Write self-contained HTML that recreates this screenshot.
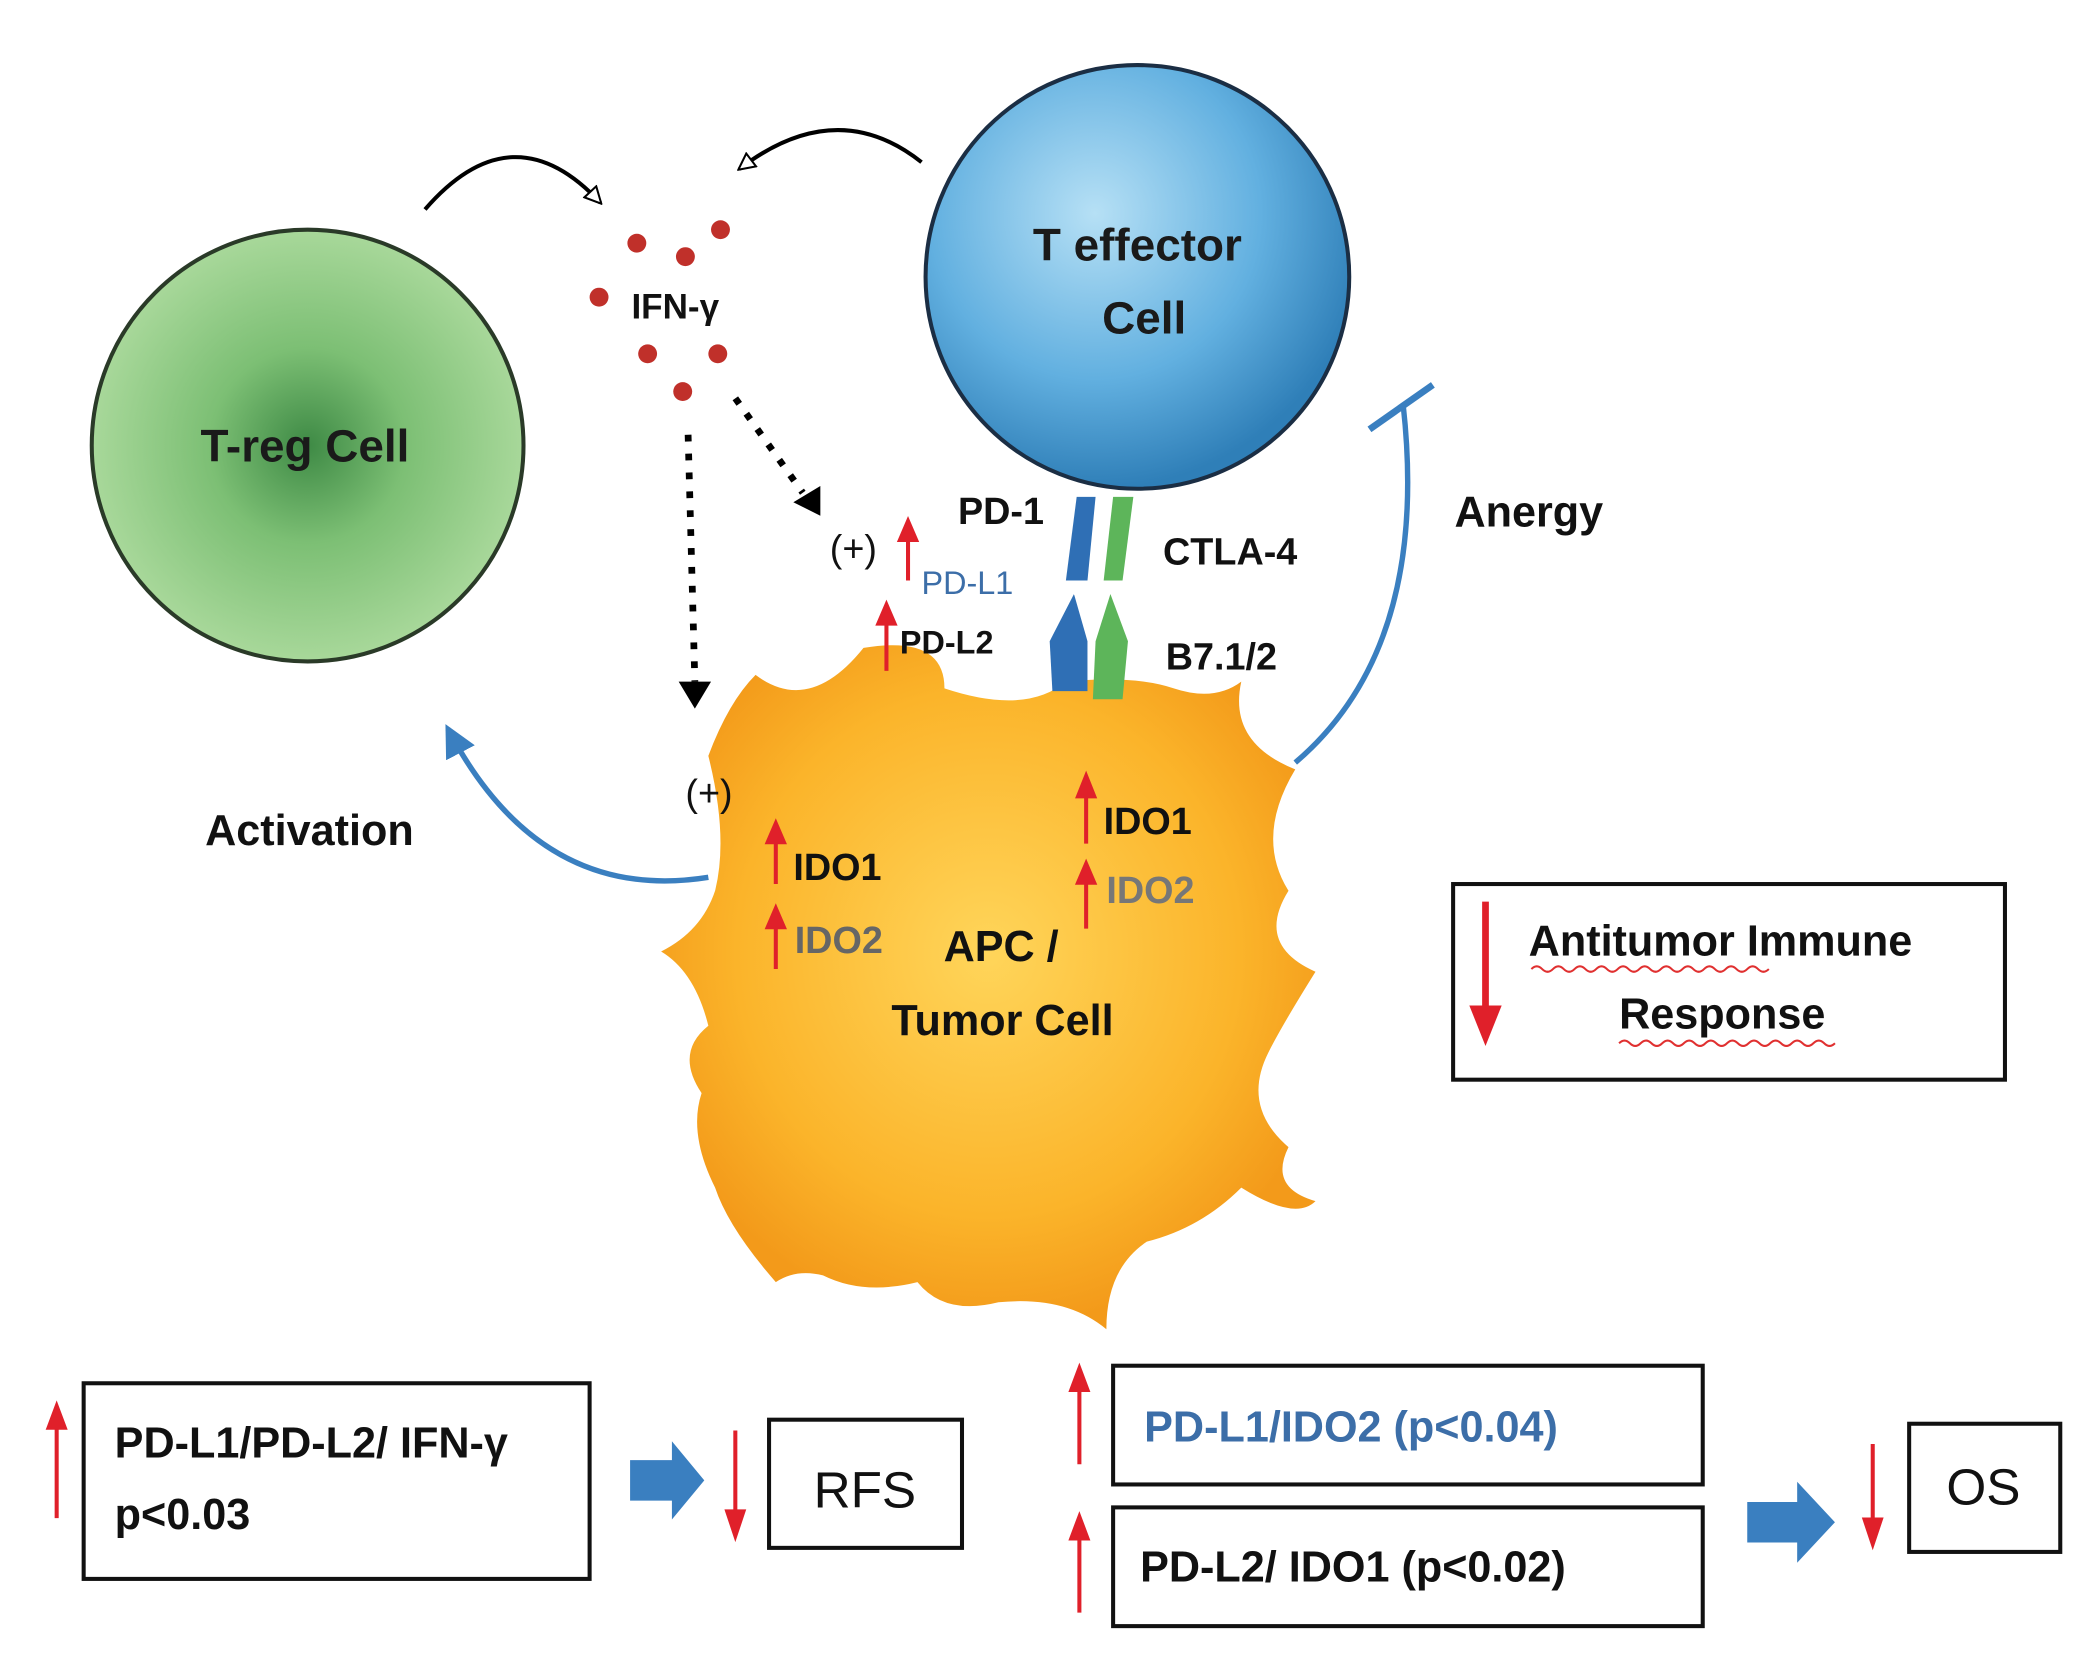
<!DOCTYPE html>
<html><head><meta charset="utf-8">
<style>
html,body{margin:0;padding:0;background:#fff;}
svg{display:block;}
text{font-family:"Liberation Sans",sans-serif;font-weight:bold;}
</style></head>
<body>
<svg width="2094" height="1675" viewBox="0 0 1552 1241" xmlns="http://www.w3.org/2000/svg">
<defs>
<radialGradient id="g" cx="50%" cy="50%" r="50%">
<stop offset="0" stop-color="#3e8a45"/><stop offset="0.45" stop-color="#7cbf74"/><stop offset="1" stop-color="#a8d89a"/>
</radialGradient>
<radialGradient id="b" cx="40%" cy="35%" r="65%">
<stop offset="0" stop-color="#b6e0f5"/><stop offset="0.6" stop-color="#62b0e0"/><stop offset="1" stop-color="#2f7fb8"/>
</radialGradient>
<radialGradient id="o" cx="50%" cy="45%" r="55%">
<stop offset="0" stop-color="#ffd55a"/><stop offset="0.7" stop-color="#fbb42a"/><stop offset="1" stop-color="#f39a1a"/>
</radialGradient>
<marker id="ah" markerWidth="10" markerHeight="10" refX="8" refY="5" orient="auto" markerUnits="userSpaceOnUse"><path d="M0,0 L10,5 L0,10 Z" fill="#000"/></marker>
<marker id="ao" markerWidth="14" markerHeight="14" refX="12" refY="7" orient="auto" markerUnits="userSpaceOnUse"><path d="M1,1 L13,7 L1,13 Z" fill="#fff" stroke="#000" stroke-width="1.5"/></marker>
<marker id="ab" markerWidth="24" markerHeight="24" refX="20" refY="12" orient="auto" markerUnits="userSpaceOnUse"><path d="M0,0 L24,12 L0,24 Z" fill="#3a7fc0"/></marker>
<marker id="ad" markerWidth="22" markerHeight="22" refX="18" refY="11" orient="auto" markerUnits="userSpaceOnUse"><path d="M0,0 L22,11 L0,22 Z" fill="#000"/></marker>
</defs>

<!-- T-reg -->
<circle cx="228" cy="330" r="160" fill="url(#g)" stroke="#2a3a28" stroke-width="3"/>
<text x="226" y="342" font-size="34" text-anchor="middle" fill="#1a1a1a">T-reg Cell</text>

<!-- T effector -->
<circle cx="843" cy="205" r="157" fill="url(#b)" stroke="#1b2e44" stroke-width="3"/>
<text x="843" y="193" font-size="34" text-anchor="middle" fill="#1a1a1a">T effector</text>
<text x="848" y="247" font-size="34" text-anchor="middle" fill="#1a1a1a">Cell</text>

<!-- IFN dots -->
<g fill="#c0302a">
<circle cx="472" cy="180" r="7"/><circle cx="508" cy="190" r="7"/><circle cx="534" cy="170" r="7"/>
<circle cx="444" cy="220" r="7"/><circle cx="480" cy="262" r="7"/><circle cx="532" cy="262" r="7"/><circle cx="506" cy="290" r="7"/>
</g>
<text x="468" y="236" font-size="26" fill="#111">IFN-γ</text>

<!-- curved arrows -->
<path d="M315,155 Q380,80 445,150" fill="none" stroke="#000" stroke-width="3" marker-end="url(#ao)"/>
<path d="M683,120 Q620,70 548,125" fill="none" stroke="#000" stroke-width="3" marker-end="url(#ao)"/>

<!-- dotted arrows -->
<line x1="510" y1="322" x2="515" y2="505" stroke="#000" stroke-width="5" stroke-dasharray="5,9"/>
<path d="M503,505 L527,505 L515,525 Z" fill="#000"/>
<line x1="545" y1="295" x2="595" y2="365" stroke="#000" stroke-width="5" stroke-dasharray="5,9"/>
<path d="M588,372 L608,360 L608,382 Z" fill="#000"/>

<!-- tumor cell -->
<path d="M560,500 Q600,530 640,480 Q700,470 700,510 Q760,530 790,505 Q840,500 870,510 Q900,520 920,505 Q910,550 960,570 Q930,620 955,660 Q930,700 975,720 Q950,760 940,780 Q920,820 955,850 Q940,880 975,890 Q960,905 920,880 Q890,910 850,920 Q820,940 820,985 Q790,960 740,965 Q700,975 680,950 Q640,960 610,945 Q590,940 575,950 Q540,910 530,880 Q510,840 520,810 Q500,780 525,760 Q515,720 490,705 Q520,690 530,660 Q540,620 525,560 Q540,520 560,500 Z" fill="url(#o)"/>

<!-- receptors -->
<path d="M798,368 L812,368 L806,430 L790,430 Z" fill="#2f6fb5"/>
<path d="M825,368 L840,368 L832,430 L818,430 Z" fill="#5db55a"/>
<path d="M778,475 L796,440 L806,475 L806,512 L780,512 Z" fill="#2f6fb5"/>
<path d="M812,475 L823,440 L836,475 L832,518 L810,518 Z" fill="#5db55a"/>
<path d="M792,432 L800,445 M824,432 L830,445" stroke="#fff" stroke-width="2"/>

<!-- labels near receptors -->
<text x="710" y="388" font-size="28" fill="#111">PD-1</text>
<text x="862" y="418" font-size="28" fill="#111">CTLA-4</text>
<text x="864" y="496" font-size="28" fill="#111">B7.1/2</text>
<text x="615" y="416" font-size="28" font-weight="normal" fill="#111" style="font-weight:normal">(+)</text>
<text x="683" y="440" font-size="24" fill="#3c6ea8" style="font-weight:normal">PD-L1</text>
<text x="667" y="484" font-size="24" fill="#111">PD-L2</text>
<text x="508" y="597" font-size="28" fill="#111" style="font-weight:normal">(+)</text>

<!-- red small arrows -->
<g stroke="#e0202a" stroke-width="3" fill="#e0202a">
<line x1="673" y1="430" x2="673" y2="398"/><path d="M667,400 L673,386 L679,400 Z"/>
<line x1="657" y1="497" x2="657" y2="460"/><path d="M651,462 L657,448 L663,462 Z"/>
<line x1="575" y1="655" x2="575" y2="622"/><path d="M569,624 L575,610 L581,624 Z"/>
<line x1="575" y1="718" x2="575" y2="685"/><path d="M569,687 L575,673 L581,687 Z"/>
<line x1="805" y1="625" x2="805" y2="588"/><path d="M799,590 L805,575 L811,590 Z"/>
<line x1="805" y1="688" x2="805" y2="652"/><path d="M799,654 L805,640 L811,654 Z"/>
</g>
<text x="588" y="652" font-size="28" fill="#111">IDO1</text>
<text x="589" y="706" font-size="28" fill="#666">IDO2</text>
<text x="818" y="618" font-size="28" fill="#111">IDO1</text>
<text x="820" y="669" font-size="28" fill="#777">IDO2</text>
<text x="742" y="712" font-size="32" fill="#111" text-anchor="middle">APC /</text>
<text x="743" y="767" font-size="32" fill="#111" text-anchor="middle">Tumor Cell</text>

<!-- activation -->
<path d="M525,650 Q400,670 332,540" fill="none" stroke="#3a7fc0" stroke-width="4" marker-end="url(#ab)"/>
<text x="152" y="626" font-size="32" fill="#111">Activation</text>

<!-- anergy -->
<path d="M960,565 Q1060,480 1040,300" fill="none" stroke="#3a7fc0" stroke-width="4"/>
<line x1="1015" y1="318" x2="1062" y2="285" stroke="#3a7fc0" stroke-width="5"/>
<text x="1078" y="390" font-size="32" fill="#111">Anergy</text>

<!-- antitumor box -->
<rect x="1077" y="655" width="409" height="145" fill="#fff" stroke="#111" stroke-width="3"/>
<line x1="1101" y1="668" x2="1101" y2="750" stroke="#e0202a" stroke-width="5"/>
<path d="M1089,745 L1113,745 L1101,775 Z" fill="#e0202a"/>
<text x="1133" y="708" font-size="32" fill="#111">Antitumor Immune</text>
<text x="1200" y="762" font-size="32" fill="#111">Response</text>
<path d="M1135,718 q4,-4 8,0 t8,0 t8,0 t8,0 t8,0 t8,0 t8,0 t8,0 t8,0 t8,0 t8,0 t8,0 t8,0 t8,0 t8,0 t8,0 t8,0 t8,0 t8,0 t8,0 t8,0 t8,0" fill="none" stroke="#e03030" stroke-width="1.5"/>
<path d="M1200,773 q4,-4 8,0 t8,0 t8,0 t8,0 t8,0 t8,0 t8,0 t8,0 t8,0 t8,0 t8,0 t8,0 t8,0 t8,0 t8,0 t8,0 t8,0 t8,0 t8,0 t8,0" fill="none" stroke="#e03030" stroke-width="1.5"/>

<!-- bottom -->
<g stroke="#e0202a" stroke-width="3" fill="#e0202a">
<line x1="42" y1="1125" x2="42" y2="1055"/><path d="M36,1058 L42,1042 L48,1058 Z"/>
<line x1="545" y1="1060" x2="545" y2="1122"/><path d="M539,1120 L545,1138 L551,1120 Z"/>
<line x1="800" y1="1085" x2="800" y2="1028"/><path d="M794,1030 L800,1014 L806,1030 Z"/>
<line x1="800" y1="1195" x2="800" y2="1138"/><path d="M794,1140 L800,1124 L806,1140 Z"/>
<line x1="1388" y1="1070" x2="1388" y2="1128"/><path d="M1382,1126 L1388,1144 L1394,1126 Z"/>
</g>
<rect x="62" y="1025" width="375" height="145" fill="#fff" stroke="#111" stroke-width="3"/>
<text x="85" y="1080" font-size="32" fill="#111">PD-L1/PD-L2/ IFN-γ</text>
<text x="85" y="1133" font-size="32" fill="#111">p&lt;0.03</text>
<path d="M467,1082 L498,1082 L498,1068 L522,1097 L498,1126 L498,1112 L467,1112 Z" fill="#3a7fc0"/>
<rect x="570" y="1052" width="143" height="95" fill="#fff" stroke="#111" stroke-width="3"/>
<text x="641" y="1117" font-size="38" fill="#111" text-anchor="middle" style="font-weight:normal">RFS</text>
<rect x="825" y="1012" width="437" height="88" fill="#fff" stroke="#111" stroke-width="3"/>
<text x="848" y="1068" font-size="32" fill="#3c6ea8">PD-L1/IDO2 (p&lt;0.04)</text>
<rect x="825" y="1117" width="437" height="88" fill="#fff" stroke="#111" stroke-width="3"/>
<text x="845" y="1172" font-size="32" fill="#111">PD-L2/ IDO1 (p&lt;0.02)</text>
<path d="M1295,1113 L1332,1113 L1332,1098 L1360,1128 L1332,1158 L1332,1143 L1295,1143 Z" fill="#3a7fc0"/>
<rect x="1415" y="1055" width="112" height="95" fill="#fff" stroke="#111" stroke-width="3"/>
<text x="1470" y="1115" font-size="38" fill="#111" text-anchor="middle" style="font-weight:normal">OS</text>
</svg>
</body></html>
